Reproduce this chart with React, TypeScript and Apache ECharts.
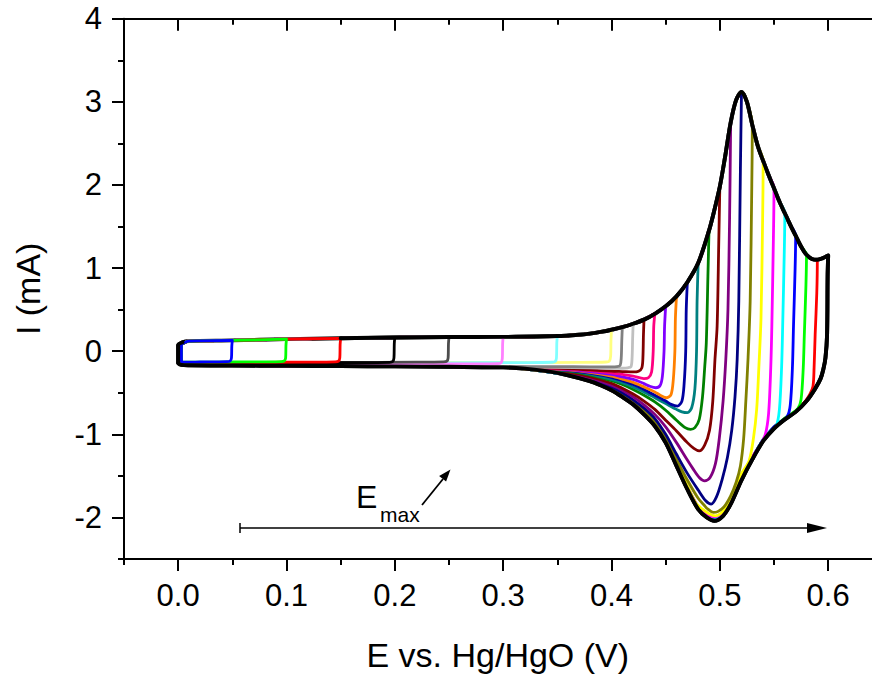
import React, { useEffect, useRef } from "react";
import * as echarts from "echarts";

type Pt = [number, number];

const FONT = "'Liberation Sans', Arial, Helvetica, sans-serif";
const X_TITLE = "E vs. Hg/HgO (V)";
const Y_TITLE = "I (mA)";
const X_MAJOR = [0, 0.1, 0.2, 0.3, 0.4, 0.5, 0.6];
const X_MINOR = [-0.05, 0.05, 0.15, 0.25, 0.35, 0.45, 0.55];
const Y_MAJOR = [-2, -1, 0, 1, 2, 3, 4];
const Y_MINOR = [-2.5, -1.5, -0.5, 0.5, 1.5, 2.5, 3.5];

// upper limits of the potential window, one curve each
const E_MAX = [
  0.05, 0.1, 0.15, 0.2, 0.25, 0.3, 0.35, 0.4, 0.41, 0.42, 0.43, 0.44, 0.45, 0.46,
  0.47, 0.48, 0.49, 0.5, 0.51, 0.52, 0.53, 0.54, 0.55, 0.56, 0.57, 0.58, 0.59, 0.6,
];
const COLORS = [
  "#0000ff", "#00ff00", "#ff0000", "#000000", "#4d4d4d", "#ff80ff", "#80ffff", "#ffff80",
  "#808080", "#c0c0c0", "#800000", "#ff0080", "#8000ff", "#ff8000", "#0000a0", "#008080",
  "#008000", "#800000", "#800080", "#000080", "#808000", "#ffff00", "#ff00ff", "#00ffff",
  "#0000ff", "#00ff00", "#ff0000", "#000000",
];

// anodic (forward) envelope, shared by all scans up to their E_max
const ANODIC: Pt[] = [
  [0.01, 0.122], [0.05, 0.13], [0.1, 0.145], [0.15, 0.155], [0.2, 0.165], [0.25, 0.17],
  [0.3, 0.172], [0.35, 0.182], [0.37, 0.198], [0.38, 0.212], [0.39, 0.232], [0.4, 0.258],
  [0.41, 0.29], [0.42, 0.33], [0.43, 0.38], [0.44, 0.45], [0.45, 0.54], [0.46, 0.66],
  [0.47, 0.83], [0.48, 1.06], [0.49, 1.45], [0.495, 1.7], [0.5, 1.98], [0.505, 2.35],
  [0.51, 2.75], [0.515, 3.02], [0.52, 3.12], [0.525, 3.0], [0.53, 2.72], [0.535, 2.47],
  [0.54, 2.29], [0.545, 2.12], [0.55, 1.96], [0.555, 1.8], [0.56, 1.66], [0.565, 1.52],
  [0.57, 1.39], [0.575, 1.26], [0.58, 1.16], [0.585, 1.11], [0.59, 1.1], [0.595, 1.12], [0.6, 1.15],
];

const LEFT_UP: Pt[] = [[0.003, 0.07], [0.007, 0.11]];
const BLACK_LEFT_UP: Pt[] = [[0.0, 0.07], [0.004, 0.108]];

// return (cathodic) branches
const BLACK_CATH: Pt[] = [
  [0.5995, 0.9], [0.599, 0.2], [0.5975, -0.08], [0.5955, -0.22], [0.593, -0.33], [0.588, -0.45],
  [0.58, -0.6], [0.57, -0.73], [0.56, -0.82], [0.55, -0.93], [0.54, -1.08], [0.53, -1.3],
  [0.52, -1.55], [0.51, -1.84], [0.503, -1.98], [0.495, -2.04], [0.488, -2.0], [0.48, -1.9],
  [0.47, -1.66], [0.46, -1.38], [0.45, -1.1], [0.44, -0.9], [0.43, -0.76], [0.42, -0.64],
  [0.41, -0.55], [0.4, -0.47], [0.39, -0.41], [0.38, -0.36], [0.36, -0.29], [0.34, -0.24],
  [0.32, -0.21], [0.3, -0.195], [0.25, -0.188], [0.2, -0.183], [0.15, -0.179], [0.1, -0.176],
  [0.05, -0.173], [0.01, -0.17], [0.003, -0.165], [0.0, -0.14],
];
const BASE_RETURN: Pt[] = [
  [0.25, -0.186], [0.2, -0.182], [0.15, -0.178], [0.1, -0.175], [0.05, -0.172], [0.01, -0.169], [0.004, -0.16],
];

const CATH_005: Pt[] = [[0.0495, 0.06], [0.0492, -0.08], [0.048, -0.118], [0.045, -0.126], [0.035, -0.128], [0.02, -0.13], [0.008, -0.132], [0.004, -0.128]];
const CATH_010: Pt[] = [[0.0995, 0.07], [0.0992, -0.08], [0.098, -0.117], [0.095, -0.125], [0.08, -0.128], [0.05, -0.13], [0.02, -0.132], [0.008, -0.133], [0.004, -0.128]];
const CATH_015: Pt[] = [[0.1495, 0.08], [0.1492, -0.08], [0.148, -0.12], [0.145, -0.128], [0.12, -0.132], [0.08, -0.134], [0.04, -0.136], [0.01, -0.137], [0.004, -0.132]];
const CATH_020: Pt[] = [[0.1995, 0.09], [0.1992, -0.08], [0.198, -0.125], [0.195, -0.134], [0.16, -0.138], [0.1, -0.14], [0.05, -0.142], [0.01, -0.143], [0.004, -0.138]];
const CATH_025: Pt[] = [[0.2495, 0.09], [0.2492, -0.08], [0.248, -0.12], [0.245, -0.128], [0.22, -0.132], [0.15, -0.135], [0.08, -0.138], [0.01, -0.14], [0.004, -0.135]];
const CATH_030: Pt[] = [[0.2995, 0.09], [0.2992, -0.09], [0.298, -0.14], [0.295, -0.15], [0.27, -0.153], [0.2, -0.155], [0.1, -0.157], [0.01, -0.158], [0.004, -0.152]];
const CATH_035: Pt[] = [[0.3495, 0.1], [0.3492, -0.08], [0.348, -0.125], [0.345, -0.133], [0.32, -0.137], [0.25, -0.14], [0.15, -0.143], [0.05, -0.145], [0.004, -0.14]];
const CATH_040: Pt[] = [[0.3995, 0.12], [0.3992, -0.06], [0.398, -0.12], [0.395, -0.13], [0.37, -0.135], [0.3, -0.138], [0.2, -0.14], [0.1, -0.143], [0.01, -0.145], [0.004, -0.14]];
const CATH_041: Pt[] = [[0.4095, 0.13], [0.409, -0.08], [0.408, -0.17], [0.405, -0.185], [0.4, -0.188], [0.38, -0.188], [0.35, -0.186], [0.3, -0.184], [0.2, -0.18], [0.1, -0.176], [0.02, -0.172], [0.004, -0.16]];
const CATH_042: Pt[] = [[0.4195, 0.15], [0.419, -0.08], [0.418, -0.185], [0.415, -0.2], [0.41, -0.205], [0.4, -0.205], [0.38, -0.2], [0.35, -0.195], [0.3, -0.19], [0.2, -0.182], [0.1, -0.177], [0.02, -0.173], [0.004, -0.16]];
const CATH_043: Pt[] = [[0.4295, 0.2], [0.429, -0.08], [0.428, -0.2], [0.425, -0.24], [0.42, -0.25], [0.41, -0.245], [0.4, -0.24], [0.38, -0.225], [0.36, -0.21], [0.33, -0.197], [0.3, -0.19]];
const CATH_044: Pt[] = [[0.439, 0.3], [0.4385, 0.0], [0.437, -0.25], [0.434, -0.32], [0.43, -0.33], [0.42, -0.3], [0.41, -0.28], [0.4, -0.26], [0.38, -0.235], [0.36, -0.215], [0.33, -0.2], [0.3, -0.19]];
const CATH_045: Pt[] = [[0.449, 0.3], [0.4485, 0.0], [0.447, -0.3], [0.445, -0.41], [0.441, -0.44], [0.435, -0.42], [0.43, -0.39], [0.42, -0.34], [0.41, -0.31], [0.4, -0.28], [0.38, -0.245], [0.36, -0.22], [0.33, -0.2], [0.3, -0.19]];
const CATH_046: Pt[] = [[0.459, 0.4], [0.4585, 0.0], [0.457, -0.35], [0.455, -0.52], [0.451, -0.56], [0.445, -0.53], [0.44, -0.49], [0.43, -0.43], [0.42, -0.375], [0.41, -0.335], [0.4, -0.3], [0.38, -0.255], [0.36, -0.225], [0.33, -0.203], [0.3, -0.19]];
const CATH_047: Pt[] = [[0.469, 0.5], [0.4685, 0.0], [0.467, -0.4], [0.465, -0.6], [0.461, -0.66], [0.455, -0.64], [0.45, -0.6], [0.44, -0.53], [0.43, -0.46], [0.42, -0.4], [0.41, -0.355], [0.4, -0.315], [0.38, -0.265], [0.36, -0.23], [0.33, -0.205], [0.3, -0.19]];
const CATH_048: Pt[] = [[0.479, 0.6], [0.4785, 0.0], [0.477, -0.45], [0.474, -0.68], [0.47, -0.74], [0.465, -0.73], [0.46, -0.7], [0.45, -0.63], [0.44, -0.56], [0.43, -0.49], [0.42, -0.43], [0.41, -0.38], [0.4, -0.34], [0.38, -0.275], [0.36, -0.235], [0.33, -0.208], [0.3, -0.19]];
const CATH_049: Pt[] = [[0.489, 0.9], [0.4875, 0.1], [0.486, -0.2], [0.484, -0.55], [0.481, -0.82], [0.477, -0.92], [0.473, -0.94], [0.468, -0.92], [0.46, -0.83], [0.45, -0.71], [0.44, -0.61], [0.43, -0.53], [0.42, -0.46], [0.41, -0.4], [0.4, -0.355], [0.38, -0.285], [0.36, -0.24], [0.33, -0.21], [0.3, -0.19]];
const CATH_050: Pt[] = [[0.499, 1.3], [0.4975, 0.3], [0.4955, -0.1], [0.4935, -0.6], [0.4905, -0.95], [0.486, -1.13], [0.481, -1.2], [0.476, -1.17], [0.47, -1.1], [0.46, -0.96], [0.45, -0.83], [0.44, -0.7], [0.43, -0.6], [0.42, -0.515], [0.41, -0.445], [0.4, -0.385], [0.38, -0.305], [0.36, -0.255], [0.33, -0.215], [0.3, -0.193]];
const CATH_051: Pt[] = [[0.509, 1.6], [0.5075, 0.5], [0.5055, -0.1], [0.503, -0.6], [0.4995, -1.05], [0.496, -1.35], [0.491, -1.52], [0.486, -1.56], [0.481, -1.52], [0.475, -1.41], [0.47, -1.31], [0.46, -1.1], [0.45, -0.91], [0.44, -0.76], [0.43, -0.645], [0.42, -0.55], [0.41, -0.47], [0.4, -0.41], [0.38, -0.32], [0.36, -0.262], [0.33, -0.22], [0.3, -0.195]];
const CATH_052: Pt[] = [[0.519, 2.2], [0.5175, 0.6], [0.516, -0.1], [0.514, -0.55], [0.511, -0.95], [0.507, -1.28], [0.502, -1.55], [0.497, -1.75], [0.492, -1.84], [0.487, -1.8], [0.48, -1.67], [0.47, -1.47], [0.46, -1.24], [0.45, -1.0], [0.44, -0.81], [0.43, -0.685], [0.42, -0.585], [0.41, -0.5], [0.4, -0.43], [0.38, -0.33], [0.36, -0.27], [0.33, -0.222], [0.3, -0.195]];
const CATH_053: Pt[] = [[0.5295, 2.0], [0.528, 0.6], [0.526, -0.1], [0.524, -0.6], [0.522, -1.05], [0.519, -1.38], [0.515, -1.58], [0.51, -1.74], [0.504, -1.87], [0.498, -1.93], [0.494, -1.94], [0.489, -1.9], [0.486, -1.86], [0.48, -1.77], [0.47, -1.55], [0.46, -1.3], [0.45, -1.04], [0.44, -0.85], [0.43, -0.72], [0.42, -0.61], [0.41, -0.52], [0.4, -0.445], [0.38, -0.34], [0.36, -0.275], [0.33, -0.225], [0.3, -0.195]];
const CATH_054: Pt[] = [[0.5395, 1.6], [0.538, 0.4], [0.536, -0.2], [0.534, -0.7], [0.531, -1.05], [0.527, -1.32], [0.52, -1.47], [0.51, -1.76], [0.503, -1.925], [0.496, -1.98], [0.49, -1.955], [0.484, -1.9], [0.478, -1.83], [0.47, -1.62], [0.46, -1.345], [0.45, -1.07], [0.44, -0.875], [0.43, -0.74], [0.42, -0.625], [0.41, -0.535], [0.4, -0.455], [0.38, -0.35], [0.36, -0.28], [0.33, -0.228], [0.3, -0.195]];
const CATH_055: Pt[] = [[0.5495, 1.4], [0.548, 0.3], [0.547, -0.2], [0.545, -0.75], [0.542, -1.0], [0.537, -1.13], [0.53, -1.27], [0.52, -1.5], [0.51, -1.79], [0.503, -1.935], [0.495, -1.99], [0.488, -1.97], [0.48, -1.87], [0.47, -1.63], [0.46, -1.354], [0.45, -1.08], [0.44, -0.884], [0.43, -0.747], [0.42, -0.629], [0.41, -0.539], [0.4, -0.459], [0.38, -0.354], [0.36, -0.284], [0.33, -0.229], [0.3, -0.195]];
const CATH_056: Pt[] = [[0.5595, 1.2], [0.558, 0.3], [0.557, -0.2], [0.555, -0.7], [0.552, -0.9], [0.545, -0.985], [0.54, -1.06], [0.53, -1.28], [0.52, -1.51], [0.51, -1.8], [0.503, -1.945], [0.495, -2.0], [0.488, -1.975], [0.48, -1.875], [0.47, -1.635], [0.46, -1.358], [0.45, -1.083], [0.44, -0.887], [0.43, -0.75], [0.42, -0.631], [0.41, -0.541], [0.4, -0.461], [0.38, -0.355], [0.36, -0.285], [0.33, -0.23], [0.3, -0.195]];
const CATH_057: Pt[] = [[0.5695, 1.0], [0.568, 0.3], [0.567, -0.2], [0.565, -0.65], [0.562, -0.79], [0.555, -0.86], [0.55, -0.91], [0.54, -1.065], [0.53, -1.285], [0.52, -1.52], [0.51, -1.81], [0.503, -1.955], [0.495, -2.01], [0.488, -1.98], [0.48, -1.88], [0.47, -1.64], [0.46, -1.362], [0.45, -1.086], [0.44, -0.89], [0.43, -0.752], [0.42, -0.633], [0.41, -0.543], [0.4, -0.463], [0.38, -0.356], [0.36, -0.286], [0.33, -0.23], [0.3, -0.195]];
const CATH_058: Pt[] = [[0.5795, 0.8], [0.578, 0.2], [0.577, -0.2], [0.575, -0.58], [0.572, -0.69], [0.565, -0.76], [0.56, -0.805], [0.55, -0.915], [0.54, -1.07], [0.53, -1.29], [0.52, -1.53], [0.51, -1.82], [0.503, -1.965], [0.495, -2.02], [0.488, -1.985], [0.48, -1.885], [0.47, -1.645], [0.46, -1.366], [0.45, -1.089], [0.44, -0.892], [0.43, -0.754], [0.42, -0.635], [0.41, -0.545], [0.4, -0.465], [0.38, -0.357], [0.36, -0.287], [0.33, -0.231], [0.3, -0.195]];
const CATH_059: Pt[] = [[0.5895, 0.7], [0.588, 0.2], [0.587, -0.2], [0.586, -0.42], [0.583, -0.52], [0.578, -0.615], [0.57, -0.72], [0.56, -0.81], [0.55, -0.92], [0.54, -1.072], [0.53, -1.293], [0.52, -1.54], [0.51, -1.83], [0.503, -1.97], [0.495, -2.03], [0.488, -1.99], [0.48, -1.89], [0.47, -1.65], [0.46, -1.37], [0.45, -1.092], [0.44, -0.895], [0.43, -0.756], [0.42, -0.637], [0.41, -0.547], [0.4, -0.467], [0.38, -0.358], [0.36, -0.288], [0.33, -0.232], [0.3, -0.195]];

const SMALL_CATH: Pt[][] = [CATH_005, CATH_010, CATH_015, CATH_020, CATH_025, CATH_030, CATH_035, CATH_040, CATH_041, CATH_042];
const LARGE_CATH: Pt[][] = [
  CATH_043, CATH_044, CATH_045, CATH_046, CATH_047, CATH_048, CATH_049, CATH_050, CATH_051,
  CATH_052, CATH_053, CATH_054, CATH_055, CATH_056, CATH_057, CATH_058, CATH_059,
];

export default function App() {
  const ref = useRef<HTMLDivElement>(null);
  useEffect(() => {
    if (!ref.current) return;
    const chart = echarts.init(ref.current, undefined, { renderer: "svg" });

    const anodicTo = (e: number) => ANODIC.filter((p) => p[0] <= e + 1e-9);
    const cathodics: Pt[][] = [...SMALL_CATH, ...LARGE_CATH.map((c) => [...c, ...BASE_RETURN])];

    const lineSeries = (data: Pt[], color: string, width: number) => ({
      type: "line",
      data,
      showSymbol: false,
      symbol: "none",
      smooth: 0.3,
      silent: true,
      lineStyle: { color, width, cap: "round", join: "round" },
      xAxisIndex: 0,
      yAxisIndex: 0,
      z: 2,
    });

    const series: any[] = [];
    const blackFull: Pt[] = [[0.0, -0.14], ...BLACK_LEFT_UP, ...ANODIC, ...BLACK_CATH];
    series.push(lineSeries(blackFull, COLORS[27], 3.9));
    for (let i = 26; i >= 0; i--) {
      const cath = cathodics[i];
      const last = cath[cath.length - 1];
      const data: Pt[] = [[0.003, last[1]], ...LEFT_UP, ...anodicTo(E_MAX[i]), ...cath];
      series.push(lineSeries(data, COLORS[i], 2.8));
    }
    const blackTop: Pt[] = [...ANODIC.filter((p) => p[0] >= 0.15 - 1e-9), ...BLACK_CATH, ...BLACK_LEFT_UP];
    series.push(lineSeries(blackTop, COLORS[27], 3.9));

    const axLine = { show: true, onZero: false, lineStyle: { color: "#000", width: 2 } };
    const tickStyle = { color: "#000", width: 2 };
    const xBase = { type: "value", min: -0.05, max: 0.64, splitLine: { show: false } };
    const yBase = { type: "value", min: -2.5, max: 4, splitLine: { show: false } };

    chart.setOption({
      animation: false,
      grid: { left: 124, top: 18.7, width: 747.5, height: 541.7, containLabel: false },
      xAxis: [
        {
          ...xBase,
          position: "bottom",
          axisLine: axLine,
          axisTick: { show: true, inside: false, length: 12, lineStyle: tickStyle, customValues: X_MAJOR },
          axisLabel: {
            show: true,
            customValues: X_MAJOR,
            formatter: (v: number) => v.toFixed(1),
            fontSize: 31,
            color: "#000",
            fontFamily: FONT,
            margin: 21,
          },
          name: X_TITLE,
          nameLocation: "middle",
          nameGap: 79,
          nameTextStyle: { fontSize: 34, color: "#000", fontFamily: FONT },
        },
        {
          ...xBase,
          position: "bottom",
          axisLine: { show: false, onZero: false },
          axisTick: { show: true, inside: false, length: 6, lineStyle: tickStyle, customValues: X_MINOR },
          axisLabel: { show: false },
        },
        {
          ...xBase,
          position: "top",
          axisLine: axLine,
          axisTick: { show: true, inside: true, length: 12, lineStyle: tickStyle, customValues: X_MAJOR },
          axisLabel: { show: false },
        },
        {
          ...xBase,
          position: "top",
          axisLine: { show: false, onZero: false },
          axisTick: { show: true, inside: true, length: 6, lineStyle: tickStyle, customValues: X_MINOR },
          axisLabel: { show: false },
        },
      ],
      yAxis: [
        {
          ...yBase,
          position: "left",
          axisLine: axLine,
          axisTick: { show: true, inside: false, length: 12, lineStyle: tickStyle, customValues: Y_MAJOR },
          axisLabel: {
            show: true,
            customValues: Y_MAJOR,
            formatter: (v: number) => String(v),
            fontSize: 31,
            color: "#000",
            fontFamily: FONT,
            margin: 22,
          },
          name: Y_TITLE,
          nameLocation: "middle",
          nameGap: 79,
          nameTextStyle: { fontSize: 34, color: "#000", fontFamily: FONT },
        },
        {
          ...yBase,
          position: "left",
          axisLine: { show: false, onZero: false },
          axisTick: { show: true, inside: false, length: 6, lineStyle: tickStyle, customValues: Y_MINOR },
          axisLabel: { show: false },
        },
      ],
      series,
      graphic: [
        { type: "line", shape: { x1: 240, y1: 528, x2: 812, y2: 528 }, style: { stroke: "#000", lineWidth: 1.5 }, z: 10 },
        { type: "line", shape: { x1: 240, y1: 523, x2: 240, y2: 533 }, style: { stroke: "#000", lineWidth: 1.5 }, z: 10 },
        { type: "polygon", shape: { points: [[827, 528], [807, 523], [807, 533]] }, style: { fill: "#000" }, z: 10 },
        { type: "line", shape: { x1: 422, y1: 505, x2: 443, y2: 479 }, style: { stroke: "#000", lineWidth: 1.8 }, z: 10 },
        { type: "polygon", shape: { points: [[450.5, 469.5], [446.1, 481.5], [439.1, 475.9]] }, style: { fill: "#000" }, z: 10 },
        {
          type: "text", x: 356, y: 497, z: 10,
          style: { text: "E", fontSize: 32, fontFamily: FONT, fill: "#000", verticalAlign: "middle", align: "left" },
        },
        {
          type: "text", x: 380, y: 514, z: 10,
          style: { text: "max", fontSize: 21, fontFamily: FONT, fill: "#000", verticalAlign: "middle", align: "left" },
        },
      ],
    });
    return () => chart.dispose();
  }, []);
  return <div ref={ref} style={{ position: "absolute", left: 0, top: 0, width: 872, height: 677 }} />;
}
